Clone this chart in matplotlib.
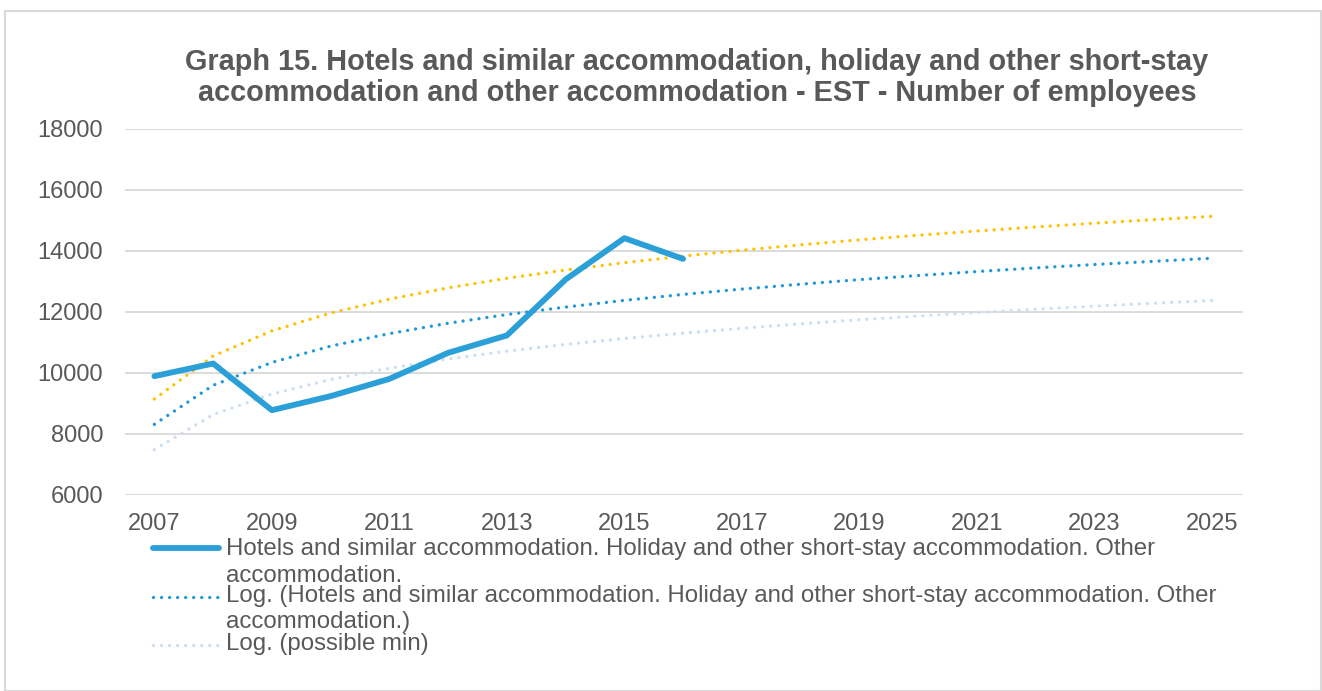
import matplotlib
matplotlib.use("Agg")
import matplotlib.pyplot as plt
from matplotlib.lines import Line2D
from matplotlib.patches import Rectangle

plt.rcParams['font.family'] = ['Liberation Sans', 'DejaVu Sans']

# ---- data ----
years = [2007, 2008, 2009, 2010, 2011, 2012, 2013, 2014, 2015, 2016]
employees = [9880, 10295, 8765, 9225, 9790, 10645, 11215, 13050, 14405, 13725]

trend_years = list(range(2007, 2026))
trend_fit = [8300, 9580, 10330, 10865, 11275, 11615, 11900, 12145, 12365, 12560,
             12735, 12895, 13045, 13180, 13310, 13430, 13540, 13645, 13745]
trend_max = [9130, 10540, 11365, 11950, 12405, 12775, 13090, 13360, 13600, 13815,
             14010, 14185, 14350, 14500, 14640, 14770, 14895, 15010, 15120]
trend_min = [7470, 8620, 9295, 9770, 10140, 10445, 10700, 10920, 11115, 11290,
             11450, 11595, 11730, 11850, 11965, 12075, 12175, 12270, 12360]

xtick_labels = ['2007', '2009', '2011', '2013', '2015', '2017', '2019', '2021', '2023', '2025']
yticks = [6000, 8000, 10000, 12000, 14000, 16000, 18000]

title_lines = ["Graph 15. Hotels and similar accommodation, holiday and other short-stay",
               "accommodation and other accommodation - EST - Number of employees"]
legend_labels = [
    ["Hotels and similar accommodation. Holiday and other short-stay accommodation. Other",
     "accommodation."],
    ["Log. (Hotels and similar accommodation. Holiday and other short-stay accommodation. Other",
     "accommodation.)"],
    ["Log. (possible min)"],
]

# ---- style ----
W, H = 1322, 691
TXT = '#595959'
GRID = '#D9D9D9'
C_MAIN = '#2A9FD8'
C_FIT = '#1E98D8'
C_MAX = '#FFC000'
C_MIN = '#CCDFF2'
FS = 17.0
FS_LEG = 17.3

fig = plt.figure(figsize=(W / 100, H / 100), dpi=100)
fig.patch.set_facecolor('white')

# chart border
fig.add_artist(Rectangle((5 / W, 0), (1321 - 5) / W, 1 - 11 / H, transform=fig.transFigure,
                         fill=False, edgecolor=GRID, linewidth=1.5))

ax = fig.add_axes([125 / W, 1 - 494.5 / H, (1243 - 125) / W, (494.5 - 128.5) / H])

dot = (0, (0.01, 2.4))
TLW = 2.4
ax.plot(trend_years, trend_min, color=C_MIN, lw=TLW, linestyle=dot, dash_capstyle='round', zorder=2)
ax.plot(trend_years, trend_max, color=C_MAX, lw=TLW, linestyle=dot, dash_capstyle='round', zorder=2)
ax.plot(trend_years, trend_fit, color=C_FIT, lw=TLW, linestyle=dot, dash_capstyle='round', zorder=2)
ax.plot(years, employees, color=C_MAIN, lw=4.2, solid_capstyle='round', solid_joinstyle='round', zorder=3)

ax.set_xlim(2006.5, 2025.53)
ax.set_ylim(6000, 18000)
ax.set_xticks([int(s) for s in xtick_labels])
ax.set_xticklabels(xtick_labels)
ax.set_yticks(yticks)
ax.set_yticklabels([str(v) for v in yticks])
ax.tick_params(axis='both', length=0, labelsize=FS, labelcolor=TXT)
ax.tick_params(axis='y', pad=15.8)
ax.tick_params(axis='x', pad=13)
for s in ax.spines.values():
    s.set_visible(False)
ax.grid(axis='y', color=GRID, lw=1.3)
ax.set_axisbelow(True)

# title, one text per line (baselines at 70 and 101 px)
for line, yb in zip(title_lines, [70, 101]):
    fig.text(697 / W, 1 - yb / H, line, ha='center', va='baseline', fontsize=20.8,
             fontweight='bold', color=TXT)

# legend (manual, handle aligned with first text line)
handles = [
    dict(color=C_MAIN, lw=4.2, ls='-'),
    dict(color=C_FIT, lw=TLW, ls=dot),
    dict(color=C_MIN, lw=TLW, ls=dot),
]
first_baselines = [555, 601.7, 650]
handle_y = [548.3, 596.7, 645]
for h, lab, yb, hy in zip(handles, legend_labels, first_baselines, handle_y):
    ln = Line2D([153 / W, 219 / W], [1 - hy / H, 1 - hy / H], transform=fig.transFigure,
                color=h['color'], lw=h['lw'], linestyle=h['ls'],
                solid_capstyle='round', dash_capstyle='round')
    fig.add_artist(ln)
    for i, part in enumerate(lab):
        fig.text(226 / W, 1 - (yb + i * 26.7) / H, part, ha='left', va='baseline',
                 fontsize=FS_LEG, color=TXT)

fig.savefig('out.png', dpi=100, facecolor='white')
